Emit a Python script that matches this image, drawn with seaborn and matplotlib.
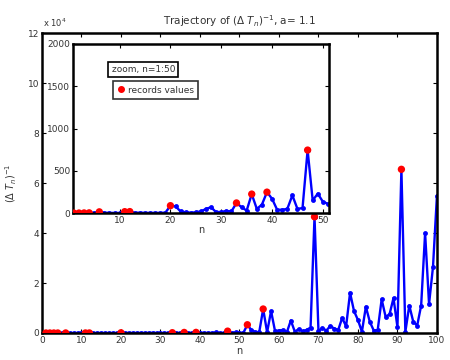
import numpy as np
import pandas as pd
import matplotlib
matplotlib.use("Agg")
import matplotlib.pyplot as plt
import seaborn as sns
from matplotlib.lines import Line2D

# ---- data ----
n_values = list(range(1, 101))
inv_dT = [
    0, 1, 2, 3, 5, 15, 5, 3, 2, 2,
    17, 18, 5, 5, 3, 3, 3, 3, 5, 88,
    80, 20, 10, 5, 10, 20, 50, 70, 10, 15,
    25, 20, 120, 70, 30, 225, 50, 100, 248, 170,
    40, 40, 50, 210, 50, 60, 745, 150, 230, 135,
    110, 3300, 1200, 400, 300, 9600, 300, 8800, 800, 1000,
    1200, 300, 5000, 600, 1500, 700, 1200, 2200, 46500, 800,
    2000, 1000, 2800, 1800, 1200, 6000, 2700, 16100, 8800, 5200,
    500, 10500, 4500, 1000, 1200, 13500, 6500, 7500, 14000, 2300,
    65500, 500, 11000, 4500, 3000, 11000, 40000, 11600, 26500, 55000,
]
record_n = [1, 2, 3, 4, 6, 11, 12, 20, 33, 36, 39, 47, 52, 56, 69, 91]
main_xticks = [0, 10, 20, 30, 40, 50, 60, 70, 80, 90, 100]
main_yticks = [0, 20000, 40000, 60000, 80000, 100000, 120000]
inset_xticks = [10, 20, 30, 40, 50]
inset_yticks = [0, 500, 1000, 1500, 2000]

df = pd.DataFrame({"n": n_values, "v": inv_dT})
rec = df[df["n"].isin(record_n)]
df_in = df[df["n"] <= 51]
rec_in = rec[rec["n"] <= 51]

sns.set_theme(style="white")
plt.rcParams["font.family"] = ["DejaVu Sans"]
txtc = "#333333"

fig = plt.figure(figsize=(4.5, 3.6), dpi=100)
ax = fig.add_axes([0.0933, 0.075, 0.8777, 0.833])

def style_axes(a, lw=1.8):
    for s in a.spines.values():
        s.set_visible(True)
        s.set_color("black")
        s.set_linewidth(lw)
    a.tick_params(direction="in", length=3, width=0.8, colors="black",
                  labelcolor=txtc, labelsize=6.5, top=True, right=True,
                  bottom=True, left=True, pad=2)

blue = "#0000ff"
red = "#ff0000"

sns.lineplot(data=df, x="n", y="v", ax=ax, color=blue, lw=1.7,
             marker="o", markersize=3.5, markeredgewidth=0, estimator=None)
sns.scatterplot(data=rec, x="n", y="v", ax=ax, color=red, s=28,
                edgecolor="none", zorder=5)
ax.set_xlim(0, 100)
ax.set_ylim(0, 120000)
ax.set_xticks(main_xticks)
ax.set_yticks(main_yticks)
ax.set_yticklabels([f"{int(t/10000)}" for t in main_yticks])
ax.set_xlabel("n", fontsize=7, color=txtc, labelpad=1)
ax.set_ylabel(r"$(\Delta\ T_n)^{-1}$", fontsize=7, color=txtc, labelpad=6)
ax.set_title(r"Trajectory of $(\Delta\ T_n)^{-1}$, a= 1.1", fontsize=7.5,
             color=txtc, pad=6)
style_axes(ax)
fig.text(0.095, 0.925, r"x 10$^4$", fontsize=6, color=txtc, ha="left")

# ---- inset ----
axi = fig.add_axes([0.162, 0.408, 0.569, 0.47])
axi.set_facecolor("white")
sns.lineplot(data=df_in, x="n", y="v", ax=axi, color=blue, lw=1.7,
             marker="o", markersize=3.5, markeredgewidth=0, estimator=None)
sns.scatterplot(data=rec_in, x="n", y="v", ax=axi, color=red, s=28,
                edgecolor="none", zorder=5, clip_on=True)
axi.set_xlim(0.8, 51.2)
axi.set_ylim(0, 2000)
axi.set_xticks(inset_xticks)
axi.set_yticks(inset_yticks)
axi.set_xlabel("n", fontsize=7, color=txtc, labelpad=0)
axi.set_ylabel("")
style_axes(axi)

# legend boxes
fig.text(0.248, 0.806, "zoom, n=1:50", fontsize=6.5, color=txtc, va="center",
         ha="left",
         bbox=dict(boxstyle="square,pad=0.35", fc="white", ec="black", lw=1.2))
h = Line2D([], [], color=red, marker="o", ls="none", markersize=4)
leg = axi.legend([h], ["records values"], loc="upper left",
                 bbox_to_anchor=(0.158, 0.78), fontsize=6.5, frameon=True,
                 fancybox=False, borderpad=0.5, handletextpad=0.3,
                 handlelength=0.8, borderaxespad=0)
leg.get_frame().set_edgecolor("black")
leg.get_frame().set_linewidth(1.2)
for t in leg.get_texts():
    t.set_color(txtc)

fig.savefig("out.png", dpi=100)
